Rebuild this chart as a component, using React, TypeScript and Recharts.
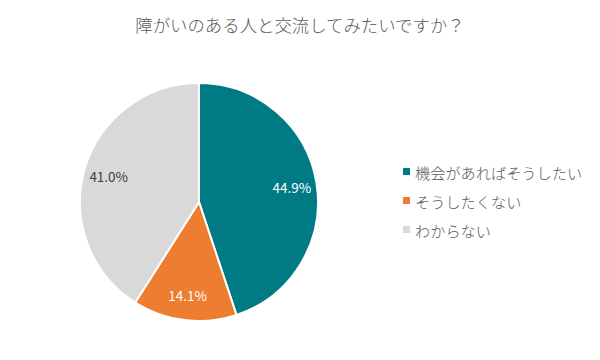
import React from "react";
import { PieChart, Pie, Cell } from "recharts";

const categories = ["機会があればそうしたい", "そうしたくない", "わからない"];
const values = [44.9, 14.1, 41.0];
const colors = ["#007B86", "#ED7D31", "#D9D9D9"];
const labelColors = ["#FFFFFF", "#FFFFFF", "#404040"];
const title = "障がいのある人と交流してみたいですか？";

const data = categories.map((name, i) => ({ name, value: values[i] }));

const FONT = '"Noto Sans CJK JP", "Noto Sans", sans-serif';
const RAD = Math.PI / 180;

const renderLabel = (props: any) => {
  const { cx, cy, midAngle, outerRadius, index, value } = props;
  const r = outerRadius * 0.79;
  const x = cx + r * Math.cos(-midAngle * RAD);
  const y = cy + r * Math.sin(-midAngle * RAD);
  return (
    <text
      x={x}
      y={y}
      fill={labelColors[index]}
      textAnchor="middle"
      dominantBaseline="central"
      fontSize={13.5}
      fontFamily={FONT}
    >
      {value.toFixed(1)}%
    </text>
  );
};

export default function App() {
  return (
    <div style={{ position: "absolute", left: 0, top: 0, width: 600, height: 360, background: "#fff" }}>
      <div
        style={{
          position: "absolute",
          left: 0,
          top: 12,
          width: 600,
          textAlign: "center",
          fontFamily: FONT,
          fontSize: 17.4,
          fontWeight: 300,
          color: "#595959",
          zIndex: 2,
        }}
      >
        {title}
      </div>
      <PieChart width={600} height={360} margin={{ top: 0, right: 0, bottom: 0, left: 0 }}>
        <Pie
          data={data}
          dataKey="value"
          nameKey="name"
          cx={199}
          cy={202}
          outerRadius={119}
          startAngle={90}
          endAngle={-270}
          stroke="#FFFFFF"
          strokeWidth={2}
          label={renderLabel}
          labelLine={false}
          isAnimationActive={false}
        >
          {data.map((d, i) => (
            <Cell key={d.name} fill={colors[i]} />
          ))}
        </Pie>
      </PieChart>
      <div style={{ position: "absolute", left: 403, top: 157, fontFamily: FONT }}>
        {categories.map((c, i) => (
          <div key={c} style={{ display: "flex", alignItems: "center", height: 29 }}>
            <span
              style={{
                display: "inline-block",
                width: 7,
                height: 7,
                background: colors[i],
                marginRight: 5,
              }}
            />
            <span style={{ fontSize: 15.2, fontWeight: 300, color: "#595959" }}>{c}</span>
          </div>
        ))}
      </div>
    </div>
  );
}
